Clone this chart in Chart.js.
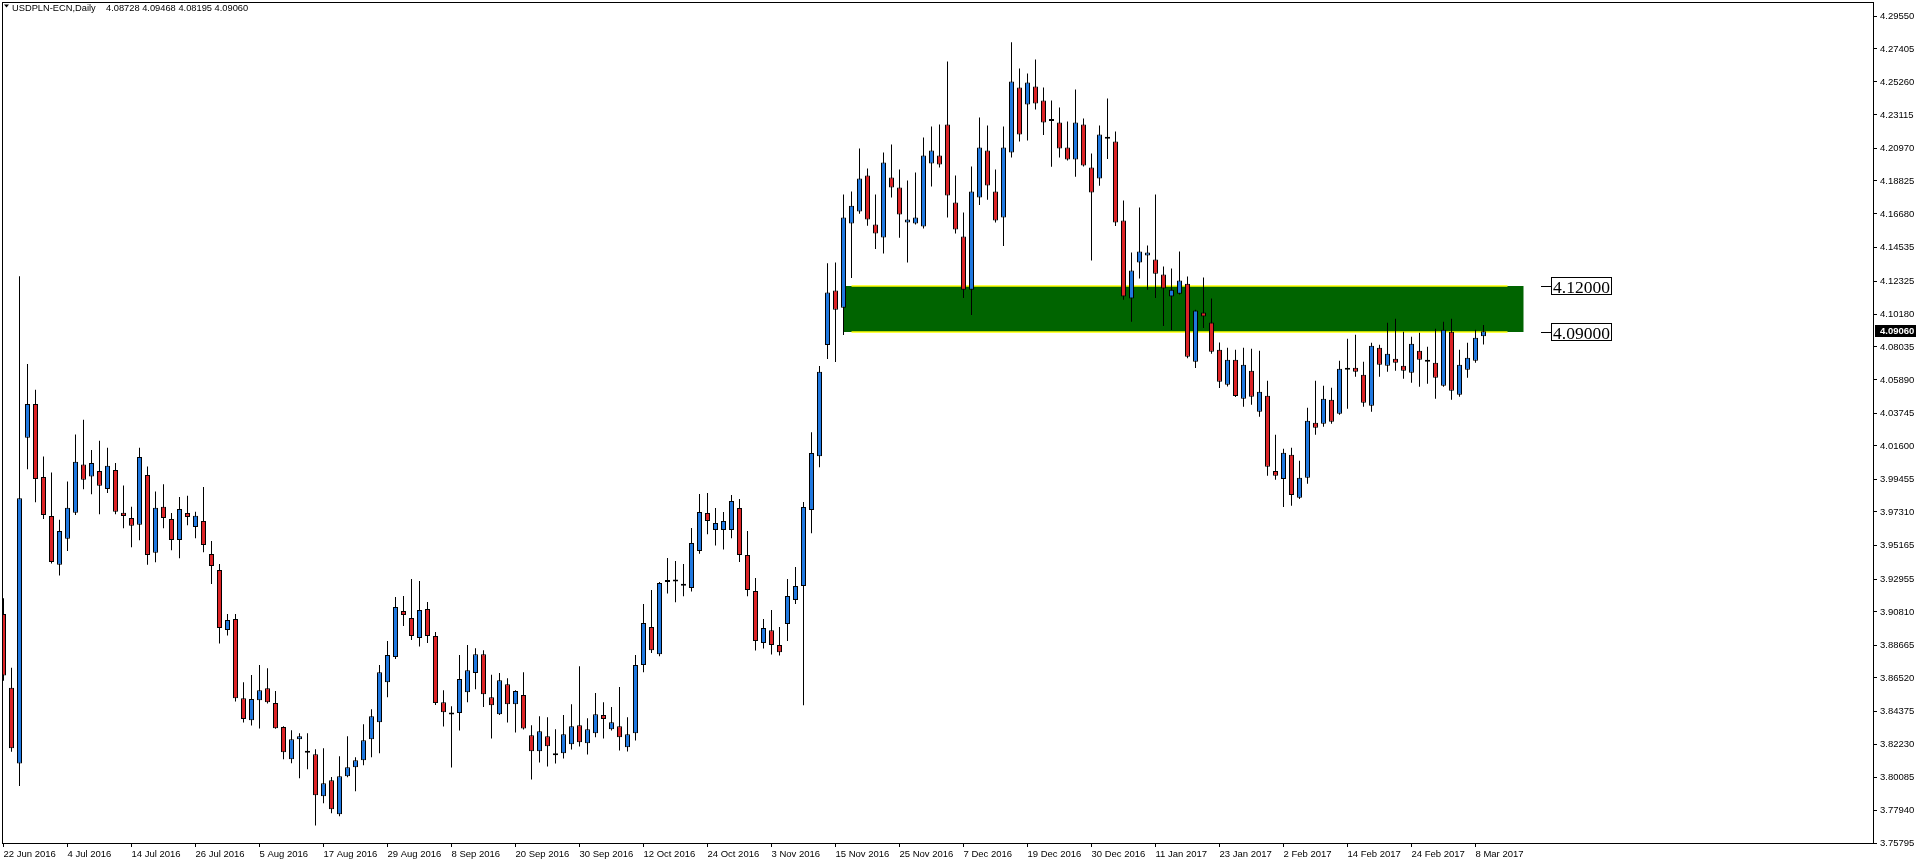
<!DOCTYPE html>
<html>
<head>
<meta charset="utf-8">
<title>USDPLN-ECN,Daily</title>
<script src="https://cdn.jsdelivr.net/npm/chart.js@4.4.1/dist/chart.umd.min.js"></script>
<style>
  html, body { margin: 0; padding: 0; background: #fff; overflow: hidden; }
  canvas { display: block; }
</style>
</head>
<body>
<canvas id="chart" width="1916" height="866"></canvas>
<script>
// USDPLN daily candles, 22 Jun 2016 .. 9 Mar 2017 (one entry per bar)
const openPrices = [
  3.9068, 3.8589, 3.8096, 4.0214, 4.0433, 3.9958, 3.9705, 3.9388, 3.9557, 3.9726,
  4.0039, 3.9961, 3.9998, 3.9881, 4.0004, 3.9726, 3.9692, 3.9648, 3.9972, 3.9466,
  3.9765, 3.9686, 3.9549, 3.9725, 3.9634, 3.9673, 3.9458, 3.9354, 3.8964, 3.9035,
  3.8521, 3.8378, 3.8508, 3.8586, 3.8489, 3.8333, 3.8124, 3.8254, 3.8168, 3.8157,
  3.7884, 3.7988, 3.7766, 3.8013, 3.8072, 3.8117, 3.8254, 3.8365, 3.8625, 3.8788,
  3.9087, 3.9042, 3.8912, 3.9100, 3.8925, 3.8495, 3.8417, 3.8424, 3.8560, 3.8684,
  3.8807, 3.8527, 3.8417, 3.8612, 3.8482, 3.8541, 3.8280, 3.8176, 3.8274, 3.8152,
  3.8163, 3.8222, 3.8345, 3.8228, 3.8293, 3.8411, 3.8319, 3.8339, 3.8202, 3.8293,
  3.8736, 3.8983, 3.8807, 3.9276, 3.9280, 3.9254, 3.9237, 3.9478, 3.9725, 3.9614,
  3.9614, 3.9614, 3.9757, 3.9452, 3.9217, 3.8879, 3.8963, 3.8866, 3.9003, 3.9159,
  3.9250, 3.9744, 4.0094, 4.0816, 4.1170, 4.1059, 4.1606, 4.1684, 4.1918, 4.1599,
  4.1515, 4.1905, 4.1840, 4.1612, 4.1606, 4.1586, 4.1996, 4.2048, 4.2250, 4.1743,
  4.1521, 4.1176, 4.1775, 4.2081, 4.1814, 4.1645, 4.2067, 4.2491, 4.2380, 4.2497,
  4.2406, 4.2274, 4.2263, 4.2100, 4.2022, 4.2250, 4.1970, 4.1899, 4.2159, 4.2139,
  4.1625, 4.1118, 4.1352, 4.1398, 4.1372, 4.1274, 4.1131, 4.1150, 4.1215, 4.0708,
  4.1027, 4.0962, 4.0786, 4.0558, 4.0721, 4.0467, 4.0649, 4.0382, 4.0487, 3.9998,
  3.9946, 4.0103, 3.9823, 3.9953, 4.0311, 4.0304, 4.0460, 4.0369, 4.0656, 4.0669,
  4.0623, 4.0421, 4.0799, 4.0682, 4.0727, 4.0682, 4.0636, 4.0779, 4.0710, 4.0701,
  4.0551, 4.0903, 4.0493, 4.0656, 4.0714, 4.08728
];
const highPrices = [
  3.9171, 3.8719, 4.1264, 4.0693, 4.0525, 4.0091, 3.9988, 3.9680, 3.9929, 4.0235,
  4.0331, 4.0134, 4.0194, 4.0148, 4.0050, 3.9904, 3.9765, 4.0148, 4.0027, 3.9865,
  3.9911, 3.9725, 3.9829, 3.9836, 3.9732, 3.9894, 3.9543, 3.9393, 3.9068, 3.9068,
  3.8625, 3.8671, 3.8736, 3.8716, 3.8567, 3.8339, 3.8313, 3.8293, 3.8293, 3.8189,
  3.8196, 3.8008, 3.8144, 3.8274, 3.8137, 3.8352, 3.8449, 3.8736, 3.8892, 3.9178,
  3.9185, 3.9295, 3.9282, 3.9146, 3.8951, 3.8573, 3.8469, 3.8801, 3.8866, 3.8846,
  3.8833, 3.8673, 3.8684, 3.8651, 3.8573, 3.8690, 3.8345, 3.8404, 3.8397, 3.8319,
  3.8411, 3.8482, 3.8729, 3.8391, 3.8554, 3.8495, 3.8463, 3.8593, 3.8397, 3.8801,
  3.9133, 3.9224, 3.9276, 3.9432, 3.9412, 3.9393, 3.9627, 3.9848, 3.9855, 3.9757,
  3.9731, 3.9842, 3.9816, 3.9608, 3.9302, 3.9035, 3.9094, 3.8983, 3.9295, 3.9373,
  3.9796, 4.0250, 4.0680, 4.1348, 4.1352, 4.1795, 4.1814, 4.2094, 4.1964, 4.1795,
  4.2068, 4.2120, 4.1957, 4.1886, 4.1938, 4.2166, 4.2237, 4.2250, 4.2660, 4.1918,
  4.1678, 4.1977, 4.2296, 4.2244, 4.1957, 4.2237, 4.2784, 4.2614, 4.2582, 4.2673,
  4.2491, 4.2406, 4.2361, 4.2270, 4.2478, 4.2289, 4.2061, 4.2244, 4.2419, 4.2204,
  4.1755, 4.1417, 4.1710, 4.1463, 4.1795, 4.1326, 4.1313, 4.1424, 4.1261, 4.1046,
  4.1255, 4.1118, 4.0832, 4.0799, 4.0786, 4.0799, 4.0792, 4.0779, 4.0584, 4.0233,
  4.0142, 4.0148, 4.0064, 4.0409, 4.0584, 4.0551, 4.0538, 4.0714, 4.0857, 4.0883,
  4.0708, 4.0831, 4.0818, 4.0961, 4.0987, 4.0903, 4.0870, 4.0896, 4.0805, 4.0922,
  4.0968, 4.0987, 4.0786, 4.0831, 4.0915, 4.09468
];
const lowPrices = [
  3.8634, 3.8173, 3.7950, 4.0009, 3.9794, 3.9685, 3.9397, 3.9319, 3.9477, 3.9712,
  3.9879, 3.9847, 3.9717, 3.9854, 3.9717, 3.9625, 3.9502, 3.9548, 3.9388, 3.9404,
  3.9625, 3.9482, 3.9430, 3.9645, 3.9560, 3.9469, 3.9263, 3.8877, 3.8929, 3.8499,
  3.8363, 3.8343, 3.8324, 3.8487, 3.8322, 3.8124, 3.8098, 3.8001, 3.8059, 3.7693,
  3.7838, 3.7773, 3.7753, 3.8007, 3.7916, 3.8085, 3.8137, 3.8163, 3.8527, 3.8775,
  3.8990, 3.8899, 3.8857, 3.8879, 3.8476, 3.8337, 3.8070, 3.8311, 3.8495, 3.8579,
  3.8463, 3.8258, 3.8411, 3.8363, 3.8298, 3.8317, 3.7992, 3.8102, 3.8076, 3.8096,
  3.8128, 3.8187, 3.8207, 3.8155, 3.8267, 3.8258, 3.8311, 3.8181, 3.8174, 3.8246,
  3.8690, 3.8814, 3.8794, 3.9202, 3.9144, 3.9183, 3.9215, 3.9460, 3.9586, 3.9514,
  3.9488, 3.9560, 3.9406, 3.9183, 3.8831, 3.8844, 3.8805, 3.8799, 3.8892, 3.9133,
  3.8475, 3.9593, 4.0022, 4.0725, 4.0706, 4.0882, 4.1252, 4.1670, 4.1591, 4.1441,
  4.1411, 4.1775, 4.1513, 4.1352, 4.1600, 4.1573, 4.1847, 4.1970, 4.1645, 4.1541,
  4.1122, 4.1012, 4.1727, 4.1760, 4.1612, 4.1460, 4.2035, 4.2139, 4.2146, 4.2348,
  4.2182, 4.1975, 4.2035, 4.2016, 4.1910, 4.1977, 4.1365, 4.1851, 4.2026, 4.1590,
  4.1111, 4.0968, 4.1248, 4.1176, 4.1122, 4.0940, 4.0914, 4.1144, 4.0730, 4.0667,
  4.0927, 4.0760, 4.0537, 4.0546, 4.0478, 4.0415, 4.0428, 4.0350, 3.9966, 3.9940,
  3.9764, 3.9771, 3.9815, 3.9914, 4.0233, 4.0285, 4.0304, 4.0363, 4.0402, 4.0610,
  4.0415, 4.0382, 4.0610, 4.0643, 4.0649, 4.0597, 4.0571, 4.0545, 4.0564, 4.0467,
  4.0545, 4.0460, 4.0480, 4.0603, 4.0701, 4.08195
];
const closePrices = [
  3.8669, 3.8196, 3.9821, 4.0433, 3.9945, 3.9712, 3.9406, 3.9607, 3.9758, 4.0057,
  3.9940, 4.0050, 3.9902, 4.0032, 3.9733, 3.9705, 3.9641, 4.0089, 3.9452, 3.9758,
  3.9692, 3.9549, 3.9751, 3.9699, 3.9706, 3.9517, 3.9380, 3.8977, 3.9029, 3.8521,
  3.8385, 3.8515, 3.8573, 3.8495, 3.8326, 3.8170, 3.8254, 3.8274, 3.8166, 3.7890,
  3.7968, 3.7799, 3.8013, 3.8072, 3.8117, 3.8248, 3.8404, 3.8690, 3.8801, 3.9113,
  3.9061, 3.8925, 3.9094, 3.8925, 3.8489, 3.8430, 3.8415, 3.8645, 3.8703, 3.8807,
  3.8547, 3.8475, 3.8638, 3.8482, 3.8567, 3.8324, 3.8176, 3.8306, 3.8209, 3.8150,
  3.8287, 3.8339, 3.8235, 3.8319, 3.8417, 3.8385, 3.8365, 3.8267, 3.8287, 3.8736,
  3.9009, 3.8833, 3.9269, 3.9278, 3.9282, 3.9252, 3.9530, 3.9731, 3.9673, 3.9660,
  3.9673, 3.9803, 3.9452, 3.9224, 3.8892, 3.8977, 3.8866, 3.8820, 3.9185, 3.9250,
  3.9764, 4.0115, 4.0643, 4.1157, 4.1046, 4.1645, 4.1721, 4.1899, 4.1632, 4.1541,
  4.2003, 4.1840, 4.1665, 4.1632, 4.1645, 4.2048, 4.2081, 4.1990, 4.1788, 4.1567,
  4.1176, 4.1814, 4.2100, 4.1853, 4.1625, 4.2100, 4.2530, 4.2185, 4.2523, 4.2387,
  4.2263, 4.2272, 4.2094, 4.2022, 4.2263, 4.1983, 4.1807, 4.2185, 4.2157, 4.1612,
  4.1131, 4.1300, 4.1424, 4.1417, 4.1280, 4.1183, 4.1176, 4.1235, 4.0740, 4.1040,
  4.1001, 4.0773, 4.0578, 4.0721, 4.0485, 4.0688, 4.0480, 4.0512, 4.0025, 3.9966,
  4.0116, 3.9842, 3.9953, 4.0324, 4.0278, 4.0467, 4.0317, 4.0662, 4.0669, 4.0643,
  4.0441, 4.0812, 4.0688, 4.0760, 4.0701, 4.0649, 4.0825, 4.0721, 4.0708, 4.0603,
  4.0915, 4.0519, 4.0688, 4.0734, 4.0864, 4.09060
];

// bottom axis: bar number and date text
const dateTickBars = [0, 8, 16, 24, 32, 40, 48, 56, 64, 72, 80, 88, 96, 104, 112, 120, 128, 136, 144, 152, 160, 168, 176, 184];
const dateTickLabels = [
  "22 Jun 2016", "4 Jul 2016", "14 Jul 2016", "26 Jul 2016", "5 Aug 2016", "17 Aug 2016",
  "29 Aug 2016", "8 Sep 2016", "20 Sep 2016", "30 Sep 2016", "12 Oct 2016", "24 Oct 2016",
  "3 Nov 2016", "15 Nov 2016", "25 Nov 2016", "7 Dec 2016", "19 Dec 2016", "30 Dec 2016",
  "11 Jan 2017", "23 Jan 2017", "2 Feb 2017", "14 Feb 2017", "24 Feb 2017", "8 Mar 2017"
];
// right axis
const priceTicks = [
  4.29550, 4.27405, 4.25260, 4.23115, 4.20970, 4.18825, 4.16680, 4.14535, 4.12325,
  4.10180, 4.08035, 4.05890, 4.03745, 4.01600, 3.99455, 3.97310, 3.95165, 3.92955,
  3.90810, 3.88665, 3.86520, 3.84375, 3.82230, 3.80085, 3.77940, 3.75795
];

// zone drawn on the chart (rectangle + two level lines with price labels)
const zoneHigh = 4.12000;
const zoneLow = 4.09000;
const zoneFromBar = 105;
const zoneToBar = 190;
const levelLineFromBar = 106;
const levelLineToBar = 188;
const levelLabels = ["4.12000", "4.09000"];

const headerSymbol = "USDPLN-ECN,Daily";
const headerValues = "4.08728 4.09468 4.08195 4.09060";
const lastPriceLabel = "4.09060";

const BULL = "#1f78e0";
const BEAR = "#dc2326";
const axisFont = { family: "Liberation Sans", size: 9.5 };

const bodyData = openPrices.map((o, i) => ({ x: i, y: [o, closePrices[i]] }));
const wickData = openPrices.map((o, i) => ({ x: i, y: [lowPrices[i], highPrices[i]] }));
const bodyColors = openPrices.map((o, i) => (closePrices[i] >= o ? BULL : BEAR));

// zone, frame, header and price labels
const mtOverlay = {
  id: "mtOverlay",
  beforeDatasetsDraw(chart) {
    const { ctx, scales: { x, y } } = chart;
    const x0 = x.getPixelForValue(zoneFromBar);
    const x1 = x.getPixelForValue(zoneToBar);
    const yTop = Math.round(y.getPixelForValue(zoneHigh));
    const yBot = Math.round(y.getPixelForValue(zoneLow));
    ctx.save();
    ctx.fillStyle = "#006400";
    ctx.fillRect(x0, yTop, x1 - x0, yBot - yTop);
    ctx.strokeStyle = "#ffff00";
    ctx.lineWidth = 1.5;
    const l0 = x.getPixelForValue(levelLineFromBar);
    const l1 = x.getPixelForValue(levelLineToBar);
    [yTop, yBot].forEach((py) => {
      ctx.beginPath();
      ctx.moveTo(l0, py);
      ctx.lineTo(l1, py);
      ctx.stroke();
    });
    ctx.restore();
  },
  afterDraw(chart) {
    const { ctx, chartArea: a, scales: { x, y } } = chart;
    ctx.save();
    // frame
    ctx.strokeStyle = "#000";
    ctx.lineWidth = 1;
    ctx.strokeRect(a.left + 0.5, a.top + 0.5, a.right - a.left, a.bottom - a.top);

    // header
    ctx.fillStyle = "#000";
    ctx.beginPath();
    ctx.moveTo(4, 4.5);
    ctx.lineTo(9, 4.5);
    ctx.lineTo(6.5, 7.5);
    ctx.closePath();
    ctx.fill();
    ctx.font = "9.3px 'Liberation Sans'";
    ctx.textBaseline = "alphabetic";
    ctx.textAlign = "left";
    ctx.fillText(headerSymbol, 12, 11);
    ctx.fillText(headerValues, 106, 11);

    // level labels to the right of the zone
    const bx = Math.round(x.getPixelForValue(zoneToBar)) + 27;
    [zoneHigh, zoneLow].forEach((lvl, k) => {
      const py = Math.round(y.getPixelForValue(lvl));
      ctx.beginPath();
      ctx.moveTo(bx - 10, py + 0.5);
      ctx.lineTo(bx, py + 0.5);
      ctx.stroke();
      ctx.fillStyle = "#fff";
      ctx.fillRect(bx, py - 9, 61, 18);
      ctx.strokeRect(bx + 0.5, py - 8.5, 60, 17);
      ctx.fillStyle = "#000";
      ctx.font = "17.5px 'Liberation Serif'";
      ctx.fillText(levelLabels[k], bx + 2, py + 6.5);
    });

    // last price marker on the axis
    const cy = Math.round(y.getPixelForValue(closePrices[closePrices.length - 1]));
    ctx.fillStyle = "#000";
    ctx.fillRect(a.right + 2, cy - 6, chart.width - a.right - 2, 12);
    ctx.fillStyle = "#fff";
    ctx.font = "bold 9.5px 'Liberation Sans'";
    ctx.textBaseline = "middle";
    ctx.fillText(lastPriceLabel, a.right + 7, cy + 0.5);
    ctx.restore();
  }
};

new Chart(document.getElementById("chart"), {
  type: "bar",
  data: {
    datasets: [
      {
        label: "body",
        data: bodyData,
        backgroundColor: bodyColors,
        borderColor: "#000",
        borderWidth: 1,
        borderSkipped: false,
        barThickness: 5,
        minBarLength: 2,
        inflateAmount: 0,
        grouped: false,
        order: 1
      },
      {
        label: "wick",
        data: wickData,
        backgroundColor: "#000",
        borderWidth: 0,
        barThickness: 1,
        inflateAmount: 0,
        grouped: false,
        order: 2
      }
    ]
  },
  options: {
    responsive: false,
    animation: false,
    events: [],
    layout: { padding: { left: 2, top: 2, right: 0, bottom: 0 } },
    plugins: { legend: { display: false }, tooltip: { enabled: false } },
    scales: {
      x: {
        type: "linear",
        offset: false,
        min: -0.1875,
        max: 233.6875,
        grid: { offset: false, drawOnChartArea: false, tickLength: 4, color: "#000" },
        border: { display: false },
        afterBuildTicks: (axis) => { axis.ticks = dateTickBars.map((v) => ({ value: v })); },
        afterFit: (axis) => {
          axis.height = 23;
          axis.paddingLeft = 0; axis.paddingRight = 0;
        },
        ticks: {
          autoSkip: false,
          maxRotation: 0,
          align: "start",
          padding: 2,
          color: "#000",
          font: axisFont,
          callback: (v, i) => dateTickLabels[i]
        }
      },
      y: {
        type: "linear",
        position: "right",
        min: 3.75795,
        max: 4.30460,
        beginAtZero: false,
        grid: { drawOnChartArea: false, tickLength: 4, color: "#000" },
        border: { display: false },
        afterBuildTicks: (axis) => { axis.ticks = priceTicks.map((v) => ({ value: v })); },
        afterFit: (axis) => {
          axis.width = 43;
          axis.paddingTop = 0; axis.paddingBottom = 0;
        },
        ticks: {
          padding: 3,
          color: "#000",
          font: axisFont,
          callback: (v) => v.toFixed(5)
        }
      }
    }
  },
  plugins: [mtOverlay]
});
</script>
</body>
</html>
